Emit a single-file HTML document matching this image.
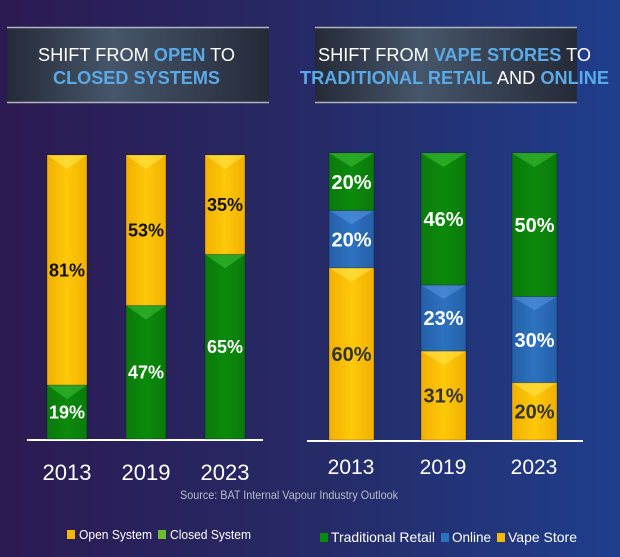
<!DOCTYPE html>
<html><head><meta charset="utf-8"><style>
html,body{margin:0;padding:0}
body{width:620px;height:557px;overflow:hidden;background:linear-gradient(90deg,#2c1a52 0%,#262a66 50%,#1f3e8c 100%);font-family:"Liberation Sans",sans-serif}
svg{position:absolute;left:0;top:0}
</style></head><body>
<svg id="s" width="620" height="557">
<defs>
<linearGradient id="tb" x1="0" x2="1"><stop offset="0" stop-color="#252a38"/><stop offset="0.4" stop-color="#46566a"/><stop offset="1" stop-color="#252a38"/></linearGradient>
<linearGradient id="gy" x1="0" x2="1"><stop offset="0" stop-color="#f0b000"/><stop offset="0.5" stop-color="#ffc80a"/><stop offset="1" stop-color="#f0b000"/></linearGradient>
<linearGradient id="gg" x1="0" x2="1"><stop offset="0" stop-color="#0a7a0a"/><stop offset="0.5" stop-color="#0c8a0c"/><stop offset="1" stop-color="#0a7a0a"/></linearGradient>
<linearGradient id="gb" x1="0" x2="1"><stop offset="0" stop-color="#2460a8"/><stop offset="0.5" stop-color="#2d72c0"/><stop offset="1" stop-color="#2460a8"/></linearGradient>
</defs>
<g>
<rect x="7" y="27" width="262" height="76" fill="url(#tb)"/>
<line x1="7" y1="27.5" x2="269" y2="27.5" stroke="#b0b4c0" stroke-width="1.5"/>
<line x1="7" y1="102.5" x2="269" y2="102.5" stroke="#b0b4c0" stroke-width="1.5"/>
<text x="38" y="61" font-size="18" fill="#fff" textLength="197" lengthAdjust="spacingAndGlyphs">SHIFT FROM <tspan fill="#5aaae8" font-weight="bold">OPEN</tspan> TO</text>
<text x="53" y="84" font-size="18" fill="#5aaae8" font-weight="bold" textLength="167" lengthAdjust="spacingAndGlyphs">CLOSED SYSTEMS</text>
</g>
<g>
<rect x="315" y="27" width="262" height="76" fill="url(#tb)"/>
<line x1="315" y1="27.5" x2="577" y2="27.5" stroke="#b0b4c0" stroke-width="1.5"/>
<line x1="315" y1="102.5" x2="577" y2="102.5" stroke="#b0b4c0" stroke-width="1.5"/>
<text x="318" y="61" font-size="18" fill="#fff" textLength="273" lengthAdjust="spacingAndGlyphs">SHIFT FROM <tspan fill="#5aaae8" font-weight="bold">VAPE STORES</tspan> TO</text>
<text x="300" y="84" font-size="18" fill="#5aaae8" font-weight="bold" textLength="309" lengthAdjust="spacingAndGlyphs">TRADITIONAL RETAIL <tspan fill="#fff" font-weight="normal">AND</tspan> ONLINE</text>
</g>
<line x1="27" y1="440" x2="263" y2="440" stroke="#fff" stroke-width="2"/>
<line x1="307" y1="441" x2="583" y2="441" stroke="#fff" stroke-width="2"/>
<text x="289" y="499" text-anchor="middle" font-size="12" fill="#b8bcc8" textLength="218" lengthAdjust="spacingAndGlyphs">Source: BAT Internal Vapour Industry Outlook</text>
<g font-size="13" fill="#fff">
<rect x="67" y="530" width="8" height="9" fill="#f5b800"/><text x="79" y="539" textLength="73" lengthAdjust="spacingAndGlyphs">Open System</text>
<rect x="158" y="530" width="8" height="9" fill="#6cc030"/><text x="170" y="539" textLength="81" lengthAdjust="spacingAndGlyphs">Closed System</text>
</g>
<g font-size="14" fill="#fff">
<rect x="320" y="533" width="8" height="9" fill="#0a8a0a"/><text x="331" y="542" textLength="104" lengthAdjust="spacingAndGlyphs">Traditional Retail</text>
<rect x="441" y="533" width="8" height="9" fill="#2d72c0"/><text x="452" y="542" textLength="39" lengthAdjust="spacingAndGlyphs">Online</text>
<rect x="497" y="533" width="8" height="9" fill="#f5b800"/><text x="508" y="542" textLength="69" lengthAdjust="spacingAndGlyphs">Vape Store</text>
</g>
</svg>
<script>
const leftYears=["2013","2019","2023"];
const leftClosed=[19,47,65];
const leftOpen=[81,53,35];
const rightYears=["2013","2019","2023"];
const rightVape=[60,31,20];
const rightOnline=[20,23,30];
const rightRetail=[20,46,50];
const NS="http://www.w3.org/2000/svg";
const svg=document.getElementById('s');
function el(t,a){const e=document.createElementNS(NS,t);for(const k in a)e.setAttribute(k,a[k]);svg.appendChild(e);return e;}
function yL(v){return 439-v*2.84;}
function yR(v){return 440-v*2.87;}
function seg(x,w,y0,y1,fill,hi,label,col,fs,name){
  const r=el('rect',{x:x,y:y1,width:w,height:y0-y1,fill:fill,stroke:'rgba(0,0,0,0.25)','stroke-width':1});
  
  
  const p=el('polygon',{points:`${x},${y1} ${x+w},${y1} ${x+w/2},${y1+Math.min(14,(y0-y1)/2)}`,fill:hi,opacity:0.45});
  
  
  const t=el('text',{x:x+w/2,y:(y0+y1)/2+fs*0.36,'text-anchor':'middle','font-size':fs,'font-family':'Liberation Sans, sans-serif','font-weight':'bold',fill:col});
  t.textContent=label;
  
  
}
const lx=[47,126,205];
leftYears.forEach((yr,i)=>{
  const a=yL(0),b=yL(leftClosed[i]),c=yL(leftClosed[i]+leftOpen[i]);
  seg(lx[i],40,a,b,'url(#gg)','#4cd040',leftClosed[i]+'%','#fff',18,'bar-closed-'+yr);
  seg(lx[i],40,b,c,'url(#gy)','#fff060',leftOpen[i]+'%','#111',18,'bar-open-'+yr);
  const t=el('text',{x:lx[i]+20,y:480,'text-anchor':'middle','font-size':22,'font-family':'Liberation Sans, sans-serif',fill:'#fff'});
  t.textContent=yr;
  
  
});
const rx=[329,421,512];
rightYears.forEach((yr,i)=>{
  const a=yR(0),b=yR(rightVape[i]),c=yR(rightVape[i]+rightOnline[i]),d=yR(rightVape[i]+rightOnline[i]+rightRetail[i]);
  seg(rx[i],45,a,b,'url(#gy)','#fff060',rightVape[i]+'%','#333',20,'bar-vape-'+yr);
  seg(rx[i],45,b,c,'url(#gb)','#60a0e8',rightOnline[i]+'%','#fff',20,'bar-online-'+yr);
  seg(rx[i],45,c,d,'url(#gg)','#4cd040',rightRetail[i]+'%','#fff',20,'bar-retail-'+yr);
  const t=el('text',{x:rx[i]+22,y:474,'text-anchor':'middle','font-size':21,'font-family':'Liberation Sans, sans-serif',fill:'#fff'});
  t.textContent=yr;
  
  
});
</script>
</body></html>
